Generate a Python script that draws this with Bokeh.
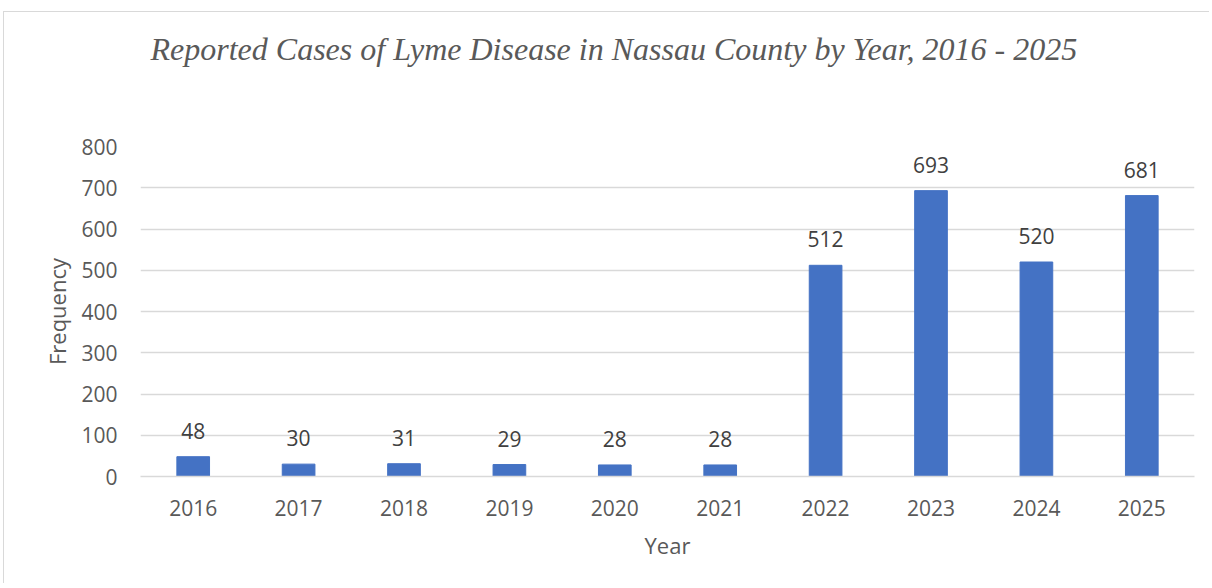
from bokeh.plotting import figure
from bokeh.models import ColumnDataSource, LabelSet, FixedTicker, Title
from bokeh.core.properties import value
from bokeh.embed import file_html
from bokeh.resources import INLINE

years = ["2016", "2017", "2018", "2019", "2020", "2021", "2022", "2023", "2024", "2025"]
cases = [48, 30, 31, 29, 28, 28, 512, 693, 520, 681]
y_ticks = [0, 100, 200, 300, 400, 500, 600, 700, 800]
title_text = "Reported Cases of Lyme Disease in Nassau County by Year, 2016 - 2025"

src = ColumnDataSource(dict(year=years, cases=cases, label=[str(c) for c in cases]))

p = figure(width=1206, height=572, x_range=years, y_range=(0, 800),
           output_backend="svg", toolbar_location=None,
           min_border_left=136, min_border_right=16, min_border_top=134, min_border_bottom=108)
p.styles = {"margin-left": "3px", "margin-top": "11px",
            "border-left": "1px solid #d9d9d9", "border-top": "1px solid #d9d9d9"}
p.title = Title(text=title_text, align="left", vertical_align="bottom",
                text_font="Liberation Serif", text_font_style="italic",
                text_font_size="32px", text_color="#595959", offset=10, standoff=0)
# empty spacer between title and plot area
p.add_layout(Title(text=" ", text_font_size="1px", standoff=77), "above")
p.outline_line_color = None
p.background_fill_color = "white"
p.border_fill_color = "white"

p.vbar(x="year", top="cases", width=0.31, source=src, fill_color="#4472C4", line_color="#4472C4")

p.xgrid.visible = False
p.ygrid.grid_line_color = "#d9d9d9"
p.ygrid.grid_line_width = 1.4
p.yaxis.ticker = FixedTicker(ticks=y_ticks)

for ax in (p.xaxis[0], p.yaxis[0]):
    ax.major_tick_line_color = None
    ax.minor_tick_line_color = None
    ax.major_label_text_font = "Open Sans"
    ax.major_label_text_font_size = "21px"
    ax.major_label_text_color = "#595959"
    ax.axis_label_text_font = "Open Sans"
    ax.axis_label_text_font_size = "22px"
    ax.axis_label_text_font_style = "normal"
    ax.axis_label_text_color = "#595959"

p.yaxis.axis_line_color = None
p.yaxis.major_label_standoff = 17
p.yaxis.axis_label = "Frequency"
p.yaxis.axis_label_standoff = 6

p.xaxis.axis_line_color = "#d9d9d9"
p.xaxis.axis_line_width = 1.4
p.xaxis.major_label_standoff = 17
p.xaxis.axis_label = "Year"
p.xaxis.axis_label_standoff = 11

labels = LabelSet(x="year", y="cases", text="label", source=src, text_align="center",
                  text_baseline="alphabetic", y_offset=18, text_font=value("Open Sans"),
                  text_font_size=value("21px"), text_color=value("#404040"))
p.add_layout(labels)

open("out.html", "w").write(file_html(p, INLINE))
